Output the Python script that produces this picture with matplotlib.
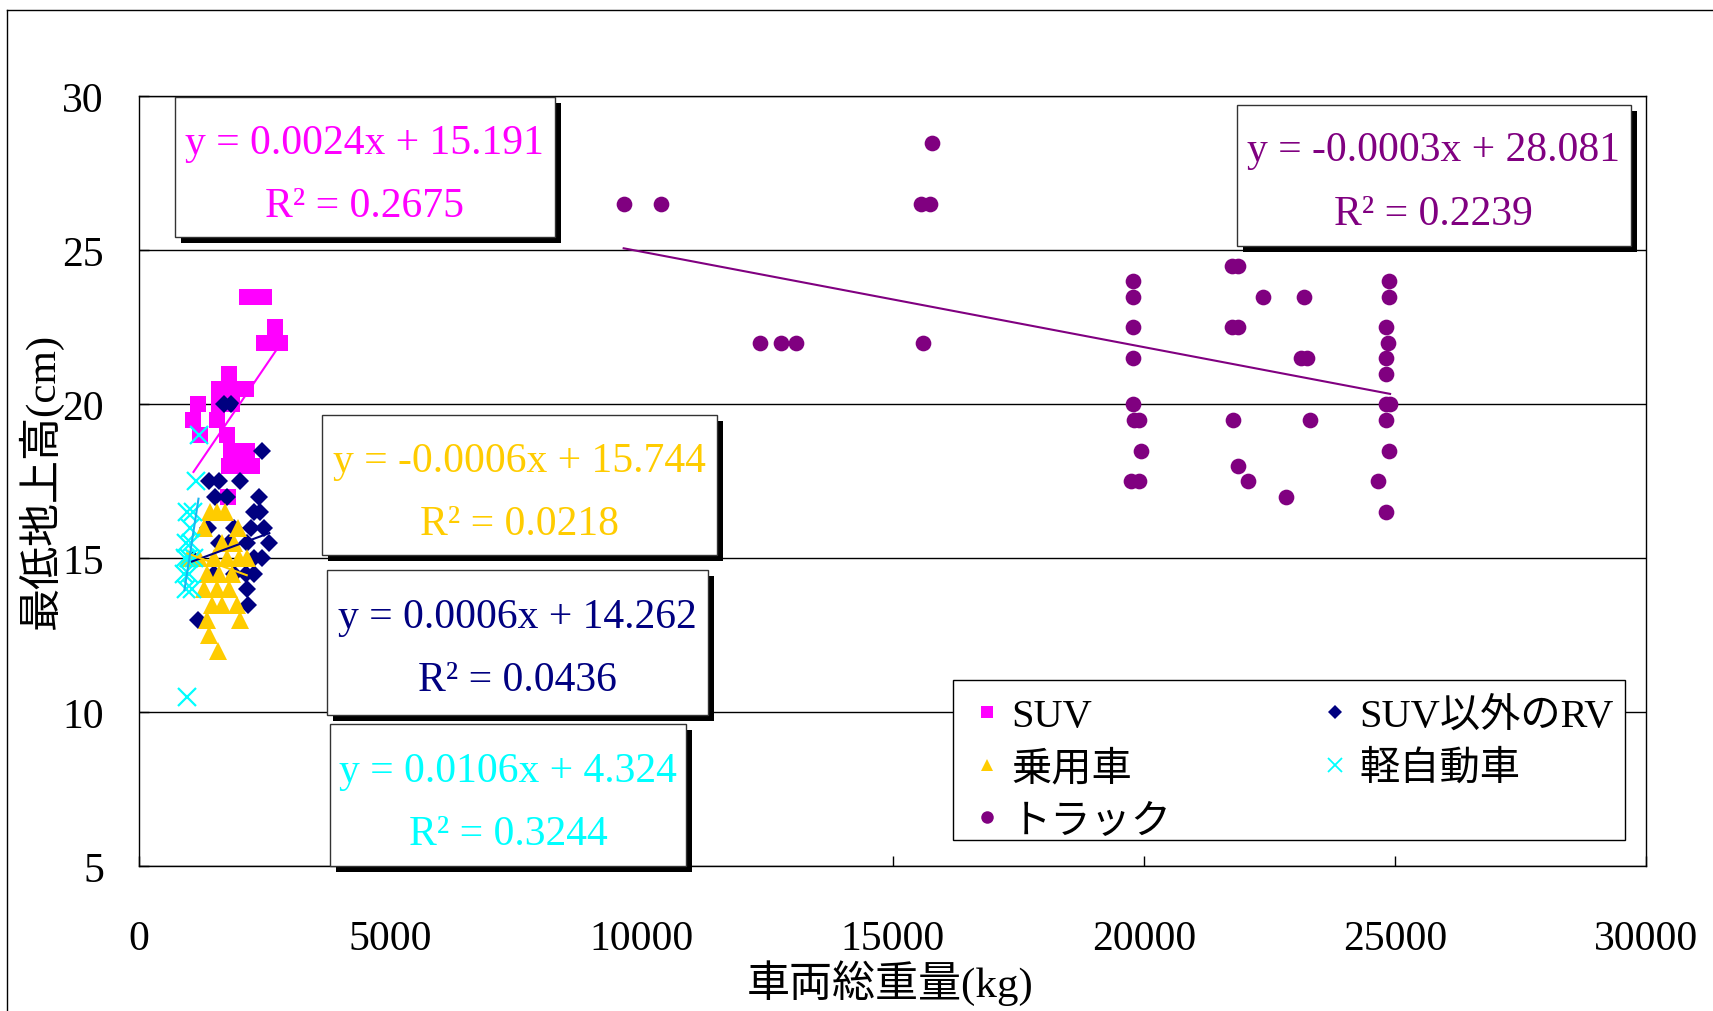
import matplotlib
matplotlib.use('Agg')
import matplotlib.pyplot as plt
from matplotlib.patches import Rectangle
from matplotlib.lines import Line2D
import numpy as np

plt.rcParams['font.family'] = ['Liberation Serif', 'Noto Sans CJK JP']

# ---------------- data ----------------
series_names = ['SUV', 'SUV以外のRV', '乗用車', '軽自動車', 'トラック']

suv_x = [2150, 2330, 2500, 2720, 2500, 2650, 2810, 1800, 1600, 1780, 1950, 2130,
         1170, 1600, 1860, 1090, 1560, 1210, 1750, 1830, 2000, 2150, 1800, 2000, 2250, 1780]
suv_y = [23.5, 23.5, 23.5, 22.5, 22, 22, 22, 21, 20.5, 20.5, 20.5, 20.5,
         20, 20, 20, 19.5, 19.5, 19, 19, 18.5, 18.5, 18.5, 18, 18, 18, 17]

rv_x = [1700, 1830, 2460, 1390, 1600, 2020, 1520, 1750, 2390, 2290, 2420, 1370, 1900,
        2240, 2500, 1590, 2150, 2600, 1060, 2300, 2450, 1500, 1900, 2130, 2290, 2150,
        2180, 1170, 1800]
rv_y = [20, 20, 18.5, 17.5, 17.5, 17.5, 17, 17, 17, 16.5, 16.5, 16, 16,
        16, 16, 15.5, 15.5, 15.5, 15, 15, 15, 14.5, 14.5, 14.5, 14.5, 14,
        13.5, 13, 15.5]

pc_x = [1420, 1720, 1560, 1980, 1300, 1650, 1900, 980, 1200, 1500, 1750, 2000, 2150,
        1350, 1600, 1850, 1300, 1550, 1800, 1450, 1650, 1950, 1350, 2010, 1390, 1580]
pc_y = [16.5, 16.5, 16.5, 16, 16, 15.5, 15.5, 15, 15, 15, 15, 15, 15,
        14.5, 14.5, 14.5, 14, 14, 14, 13.5, 13.5, 13.5, 13, 13, 12.5, 12]

kei_x = [1190, 1150, 960, 1020, 1080, 950, 1050, 930, 1000, 1100, 910, 1010, 940, 1060, 960]
kei_y = [19, 17.5, 16.5, 16, 16.5, 15.5, 15.5, 15, 15, 15, 14.5, 14.5, 14, 14, 10.5]

truck_x = [9650, 10390, 15560, 15740, 15780,
           12370, 12780, 13070, 15610,
           19790, 19790, 19790, 19790, 19790, 19800, 19900, 19940, 19750, 19900,
           21760, 21880, 21760, 21880, 21780, 21870, 22070, 22380, 23180, 23120, 23240,
           23300, 22820,
           24880, 24880, 24810, 24850, 24810, 24810, 24810, 24900, 24810, 24880, 24650, 24810]
truck_y = [26.5, 26.5, 26.5, 26.5, 28.5,
           22, 22, 22, 22,
           24, 23.5, 22.5, 21.5, 20, 19.5, 19.5, 18.5, 17.5, 17.5,
           24.5, 24.5, 22.5, 22.5, 19.5, 18, 17.5, 23.5, 23.5, 21.5, 21.5,
           19.5, 17,
           24, 23.5, 22.5, 22, 21.5, 21, 20, 20, 19.5, 18.5, 17.5, 16.5]

# trendline coefficients (as displayed in the chart)
trend_slope = [0.0024, 0.0006, -0.0006, 0.0106, -0.00031]
trend_intercept = [15.191, 14.262, 15.744, 4.324, 28.06]
eq_labels = ['y = 0.0024x + 15.191', 'y = 0.0006x + 14.262', 'y = -0.0006x + 15.744',
             'y = 0.0106x + 4.324', 'y = -0.0003x + 28.081']
r2_labels = ['R² = 0.2675', 'R² = 0.0436', 'R² = 0.0218', 'R² = 0.3244', 'R² = 0.2239']

x_ticks = [0, 5000, 10000, 15000, 20000, 25000, 30000]
y_ticks = [5, 10, 15, 20, 25, 30]

# ---------------- styling ----------------
colors = ['#FF00FF', '#000080', '#FFCC00', '#00FFFF', '#800080']
line_colors = ['#FF00FF', '#000080', '#FFCC00', '#19B5F0', '#800080']
markers = ['s', 'D', '^', 'x', 'o']
msizes = [11.5, 8.7, 12.5, 12.5, 11.3]

W, H = 1713, 1012
fig = plt.figure(figsize=(W / 100, H / 100), dpi=100)
L, R, T, B = 138.7, 1646.4, 97.4, 867.4
ax = fig.add_axes([L / W, 1 - B / H, (R - L) / W, (B - T) / H])


def fx(x):
    return x / W


def fy(y):
    return 1 - y / H


data = [(suv_x, suv_y), (rv_x, rv_y), (pc_x, pc_y), (kei_x, kei_y), (truck_x, truck_y)]
zorders = [3, 4, 5, 6, 3]
for i, (xs, ys) in enumerate(data):
    if markers[i] == 'x':
        ax.plot(xs, ys, ls='none', marker='x', ms=msizes[i], mew=1.6,
                color=colors[i], zorder=zorders[i])
    else:
        ax.plot(xs, ys, ls='none', marker=markers[i], ms=msizes[i], mew=0,
                color=colors[i], zorder=zorders[i])

for i, (xs, ys) in enumerate(data):
    xx = np.array([min(xs), max(xs)])
    ax.plot(xx, trend_slope[i] * xx + trend_intercept[i], color=line_colors[i],
            lw=1.5, zorder=7)

ax.set_xlim(0, 30000)
ax.set_ylim(5, 30)
ax.set_xticks(x_ticks)
ax.set_yticks(y_ticks)
ax.set_xticklabels([str(v) for v in x_ticks])
ax.set_yticklabels([str(v) for v in y_ticks])
ax.tick_params(axis='both', direction='in', length=7, width=1, labelsize=30, colors='black')
ax.tick_params(axis='x', pad=38)
ax.tick_params(axis='y', pad=25)
ax.yaxis.grid(True, color='black', lw=1)
ax.set_axisbelow(True)
for s in ax.spines.values():
    s.set_color('black')
    s.set_linewidth(1)

# axis labels
fig.text(fx(890), fy(983), '車両総重量(kg)', fontsize=31, ha='center', va='center')
fig.text(fx(40), fy(481), '最低地上高(cm)', fontsize=31, ha='center', va='center',
         rotation=90)

# outer chart border (top and left visible)
fig.add_artist(Line2D([fx(7), 1.0], [fy(11), fy(11)], transform=fig.transFigure,
                      color='black', lw=1))
fig.add_artist(Line2D([fx(7), fx(7)], [fy(11), 0.0], transform=fig.transFigure,
                      color='black', lw=1))

# equation boxes: (left, top, right, bottom) in pixels, line centers y
boxes = [
    (174.8, 98.3, 555.0, 238.2, 144, 207),     # SUV
    (326.7, 571.4, 708.0, 715.6, 618, 681),    # RV
    (322.3, 416.2, 716.7, 556.0, 462, 525),    # 乗用車
    (330.0, 725.4, 686.0, 867.4, 772, 835),    # 軽自動車
    (1236.7, 106.0, 1631.0, 247.0, 151, 215),  # トラック
]
for i, (l, t, r, b, y1, y2) in enumerate(boxes):
    sh = Rectangle((fx(l + 6), fy(b + 6)), (r - l) / W, (b - t) / H,
                   transform=fig.transFigure, facecolor='black', edgecolor='none', zorder=8)
    bx = Rectangle((fx(l), fy(b)), (r - l) / W, (b - t) / H,
                   transform=fig.transFigure, facecolor='white', edgecolor='#333333',
                   lw=1, zorder=9)
    fig.add_artist(sh)
    fig.add_artist(bx)
    cx = (l + r) / 2
    fig.text(fx(cx), fy(y1), eq_labels[i], fontsize=30, color=colors[i],
             ha='center', va='center', zorder=10)
    fig.text(fx(cx), fy(y2), r2_labels[i], fontsize=30, color=colors[i],
             ha='center', va='center', zorder=10)

# legend frame drawn manually
lg_l, lg_t, lg_r, lg_b = 952.6, 680.6, 1624.5, 841.2
fig.add_artist(Rectangle((fx(lg_l), fy(lg_b)), (lg_r - lg_l) / W, (lg_b - lg_t) / H,
                         transform=fig.transFigure, facecolor='white', edgecolor='black',
                         lw=1, zorder=10))

# legend (column-first order)
order = [0, 2, 4, 1, 3]
handles = []
for i in order:
    if markers[i] == 'x':
        handles.append(Line2D([], [], ls='none', marker='x', ms=10, mew=1.3, color=colors[i]))
    else:
        handles.append(Line2D([], [], ls='none', marker=markers[i],
                              ms=9 if markers[i] != 'D' else 7,
                              mew=0, color=colors[i]))
leg = fig.legend(handles, [series_names[i] for i in order], ncol=2, loc='upper left',
                 bbox_to_anchor=(fx(lg_l), fy(lg_t)), bbox_transform=fig.transFigure,
                 frameon=False, fontsize=29, handlelength=0.8, handletextpad=0.2,
                 columnspacing=3.65, borderpad=0.45, labelspacing=0.38, borderaxespad=0)
leg.set_zorder(11)

fig.savefig('out.png', dpi=100)
